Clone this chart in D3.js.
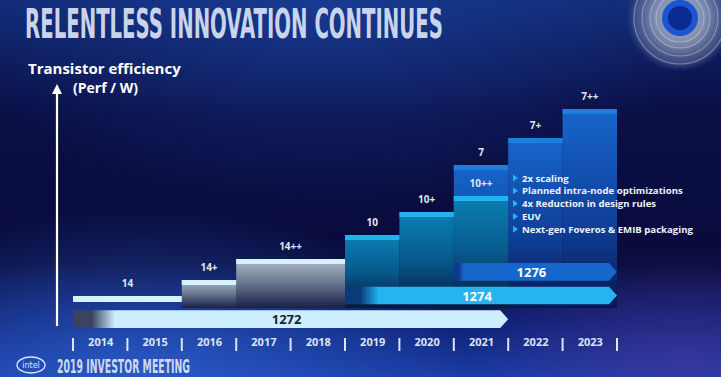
<!DOCTYPE html>
<html>
<head>
<meta charset="utf-8">
<script src="https://cdn.jsdelivr.net/npm/d3@7/dist/d3.min.js"></script>
<style>
  html, body { margin: 0; padding: 0; background: #0a0c42; }
  svg { display: block; }
</style>
</head>
<body>
<svg id="chart" width="721" height="377"></svg>
<script>
// ---------------- DATA ----------------
const years = [2014, 2015, 2016, 2017, 2018, 2019, 2020, 2021, 2022, 2023];
const nodeLabels = ["14", "14+", "14++", "10", "10+", "10++", "7", "7+", "7++"];
const nodeStart  = [2014, 2016, 2017, 2019, 2020, 2021, 2021, 2022, 2023];
const nodeEnd    = [2016, 2017, 2019, 2020, 2021, 2022, 2022, 2023, 2024];
const nodeLevel  = [3, 11, 21.5, 33.5, 45, 53, 68.5, 82, 96.5];   // relative transistor efficiency
const nodeFamily = ["14", "14", "14", "10", "10", "10", "7", "7", "7"];
const processNames = ["1272", "1274", "1276"];
const processStart = [2014, 2019, 2021];
const processEnd   = [2022, 2024, 2024];
const bullets = ["2x scaling", "Planned intra-node optimizations", "4x Reduction in design rules",
                 "EUV", "Next-gen Foveros & EMIB packaging"];
const title = "RELENTLESS INNOVATION CONTINUES";
const axisTitle = ["Transistor efficiency", "(Perf / W)"];
const footer = "2019 INVESTOR MEETING";

// ---------------- SETUP ----------------
const svg = d3.select("#chart");
const W = 721, H = 377;
const defs = svg.append("defs");

const x = d3.scaleLinear().domain([2014, 2024]).range([73, 617]);
const y = d3.scaleLinear().domain([0, 100]).range([302, 102]);
const rowBand = d3.scaleBand().domain(["1276", "1274", "1272"]).range([263, 328]).paddingInner(0.25);

function lg(id, stops, x1 = 0, y1 = 0, x2 = 0, y2 = 1) {
  const g = defs.append("linearGradient").attr("id", id)
    .attr("x1", x1).attr("y1", y1).attr("x2", x2).attr("y2", y2);
  stops.forEach(s => g.append("stop").attr("offset", s[0]).attr("stop-color", s[1]).attr("stop-opacity", s[2] == null ? 1 : s[2]));
}
function rg(id, cx, cy, r, stops) {
  const g = defs.append("radialGradient").attr("id", id)
    .attr("cx", cx).attr("cy", cy).attr("r", r);
  stops.forEach(s => g.append("stop").attr("offset", s[0]).attr("stop-color", s[1]).attr("stop-opacity", s[2] == null ? 1 : s[2]));
}

// Background
lg("bg", [[0, "#112a74"], [0.14, "#0d1c5c"], [0.3, "#0a0e44"], [0.7, "#090b3c"], [0.86, "#0f2276"], [1, "#1a3ca6"]]);
rg("glowBL", "20%", "100%", "45%", [[0, "#2f64d0", 0.75], [1, "#2f64d0", 0]]);
rg("glowBR", "95%", "95%", "30%", [[0, "#5a3aa0", 0.45], [1, "#5a3aa0", 0]]);
rg("glowT", "45%", "0%", "55%", [[0, "#1d47a8", 0.55], [1, "#1d47a8", 0]]);
svg.append("rect").attr("width", W).attr("height", H).attr("fill", "url(#bg)");
svg.append("rect").attr("width", W).attr("height", H).attr("fill", "url(#glowT)");
svg.append("rect").attr("width", W).attr("height", H).attr("fill", "url(#glowBL)");
svg.append("rect").attr("width", W).attr("height", H).attr("fill", "url(#glowBR)");

// Disc decoration top-right
rg("discG", "50%", "50%", "50%", [[0, "#c8d0e0", 0.9], [0.5, "#a8b2c8", 0.7], [0.85, "#6d7aa0", 0.45], [1, "#3a4a90", 0]]);
const disc = svg.append("g").attr("transform", "translate(680,18)");
disc.append("circle").attr("r", 54).attr("fill", "url(#discG)");
[46, 38, 30, 24].forEach(r => {
  disc.append("circle").attr("r", r).attr("fill", "none").attr("stroke", "#e2e8f2").attr("stroke-opacity", 0.35).attr("stroke-width", 1.2);
});
disc.append("circle").attr("r", 18).attr("fill", "#1c55d4");
disc.append("circle").attr("r", 12).attr("fill", "#0c2b90");

// Title
svg.append("text").attr("transform", "translate(25,38) scale(1,1.15)")
  .attr("textLength", 418).attr("lengthAdjust", "spacingAndGlyphs")
  .style("font-family", "'Liberation Sans Narrow', 'DejaVu Sans Condensed', 'Roboto', sans-serif")
  .style("font-weight", "bold").style("font-size", "36px").attr("fill", "#c9d4ec")
  .text(title);

// Axis title
svg.append("text").attr("x", 28).attr("y", 74)
  .style("font-family", "'Open Sans', 'Noto Sans', sans-serif").style("font-weight", "bold")
  .style("font-size", "15px").attr("fill", "#ffffff").text(axisTitle[0]);
svg.append("text").attr("x", 73).attr("y", 93)
  .style("font-family", "'Open Sans', 'Noto Sans', sans-serif").style("font-weight", "bold")
  .style("font-size", "14px").attr("fill", "#ffffff").text(axisTitle[1]);

// Y arrow
svg.append("line").attr("x1", 57).attr("x2", 57).attr("y1", 326).attr("y2", 92)
  .attr("stroke", "#ffffff").attr("stroke-width", 2.2);
svg.append("path").attr("d", "M57,84 L52,94 L62,94 Z").attr("fill", "#ffffff");

// Bar gradients per family
const fam = {
  "14": { top: "#d6f1ff", body: [[0, "#b0bbca"], [0.45, "#6e7c94"], [1, "#1a2048"]] },
  "10": { top: "#1fb3f0", body: [[0, "#0b7fb4"], [0.5, "#075a8c"], [1, "#07183e"]] },
  "7":  { top: "#1f7fe0", body: [[0, "#1766cc"], [0.6, "#0f3e96"], [1, "#0a1650"]] }
};
Object.keys(fam).forEach(k => lg("body" + k, fam[k].body));

const nodes = nodeLabels.map((l, i) => ({
  label: l, start: nodeStart[i], end: nodeEnd[i], level: nodeLevel[i], family: nodeFamily[i]
}));
const drawOrder = nodes.slice().sort((a, b) => b.level - a.level);
const baseY = y(0) + 6;

const barG = svg.append("g");
drawOrder.forEach(d => {
  const g = barG.append("g");
  const x0 = x(d.start), x1 = x(d.end);
  const top = y(d.level);
  if (d.label !== "14") {
    g.append("rect").attr("x", x0).attr("y", top).attr("width", x1 - x0).attr("height", baseY - top)
      .attr("fill", "url(#body" + d.family + ")");
  }
  g.append("rect").attr("x", x0).attr("y", top).attr("width", x1 - x0)
    .attr("height", d.label === "14" ? y(0) - top : 5)
    .attr("fill", fam[d.family].top);
});

// Node labels
svg.append("g").selectAll("text").data(nodes).join("text")
  .attr("x", d => (x(d.start) + x(d.end)) / 2)
  .attr("y", d => y(d.level) - 9)
  .attr("text-anchor", "middle")
  .style("font-family", "'Open Sans', 'Noto Sans', sans-serif").style("font-weight", "bold")
  .style("font-size", "10px").attr("fill", "#dfe6f2")
  .text(d => d.label);

// Bullets
const bulletG = svg.append("g");
bullets.forEach((b, i) => {
  const by = 178 + i * 12.8;
  bulletG.append("path").attr("d", `M513,${by - 3.5} L518,${by} L513,${by + 3.5} Z`).attr("fill", "#25b4f2");
  bulletG.append("text").attr("x", 522).attr("y", by + 3.6)
    .style("font-family", "'Open Sans', 'Noto Sans', sans-serif").style("font-weight", "bold")
    .style("font-size", "9.6px").attr("fill", "#eef3fb").text(b);
});

// Process bars
const procStyle = {
  "1272": { fill: "#cdeeff", left: "#3a4460", text: "#182238", fade: 42 },
  "1274": { fill: "#24b5f1", left: "#0a3a78", text: "#ffffff", fade: 34 },
  "1276": { fill: "#1666cc", left: "#0d3a8c", text: "#ffffff", fade: 10 }
};
processNames.forEach((p, i) => {
  const s = procStyle[p];
  const x0 = x(processStart[i]), x1 = x(processEnd[i]);
  const y0 = rowBand(p), h = rowBand.bandwidth();
  const frac = s.fade / (x1 - x0);
  lg("proc" + p, [[0, s.left], [frac * 0.45, s.left], [frac, s.fill], [1, s.fill]], 0, 0, 1, 0);
  svg.append("path")
    .attr("d", `M${x0},${y0} L${x1 - 8},${y0} L${x1},${y0 + h / 2} L${x1 - 8},${y0 + h} L${x0},${y0 + h} Z`)
    .attr("fill", "url(#proc" + p + ")");
  svg.append("text").attr("x", (x0 + x1) / 2 - 4).attr("y", y0 + h / 2 + 5)
    .attr("text-anchor", "middle")
    .style("font-family", "'Open Sans', 'Noto Sans', sans-serif").style("font-weight", "bold")
    .style("font-size", "13px").attr("fill", s.text).text(p);
});

// X axis: year labels at year centers, separators at boundaries
const axisY = 345;
const xAxis = d3.axisBottom(x)
  .tickValues(years.map(v => v + 0.5))
  .tickFormat(v => String(Math.floor(v)))
  .tickSize(0).tickPadding(0);
const ax = svg.append("g").attr("transform", `translate(0,${axisY - 7})`).call(xAxis);
ax.select(".domain").remove();
ax.selectAll("text")
  .style("font-family", "'Open Sans', 'Noto Sans', sans-serif").style("font-weight", "bold")
  .style("font-size", "11px").attr("fill", "#dce5f4");
svg.append("g").selectAll("line").data(years.concat([2024])).join("line")
  .attr("x1", d => x(d)).attr("x2", d => x(d))
  .attr("y1", axisY - 7).attr("y2", axisY + 6)
  .attr("stroke", "#dce5f4").attr("stroke-width", 2);

// Footer
svg.append("ellipse").attr("cx", 31).attr("cy", 365).attr("rx", 14).attr("ry", 8)
  .attr("fill", "none").attr("stroke", "#dfe6f5").attr("stroke-width", 1.3);
svg.append("text").attr("x", 31).attr("y", 368).attr("text-anchor", "middle")
  .style("font-family", "'DejaVu Sans', sans-serif").style("font-size", "8px")
  .attr("fill", "#dfe6f5").text("intel");
svg.append("text").attr("x", 57).attr("y", 373)
  .attr("textLength", 133).attr("lengthAdjust", "spacingAndGlyphs")
  .style("font-family", "'Liberation Sans Narrow', 'DejaVu Sans Condensed', sans-serif")
  .style("font-weight", "bold").style("font-size", "20px").attr("fill", "#cfd8ef")
  .text(footer);
</script>
</body>
</html>
